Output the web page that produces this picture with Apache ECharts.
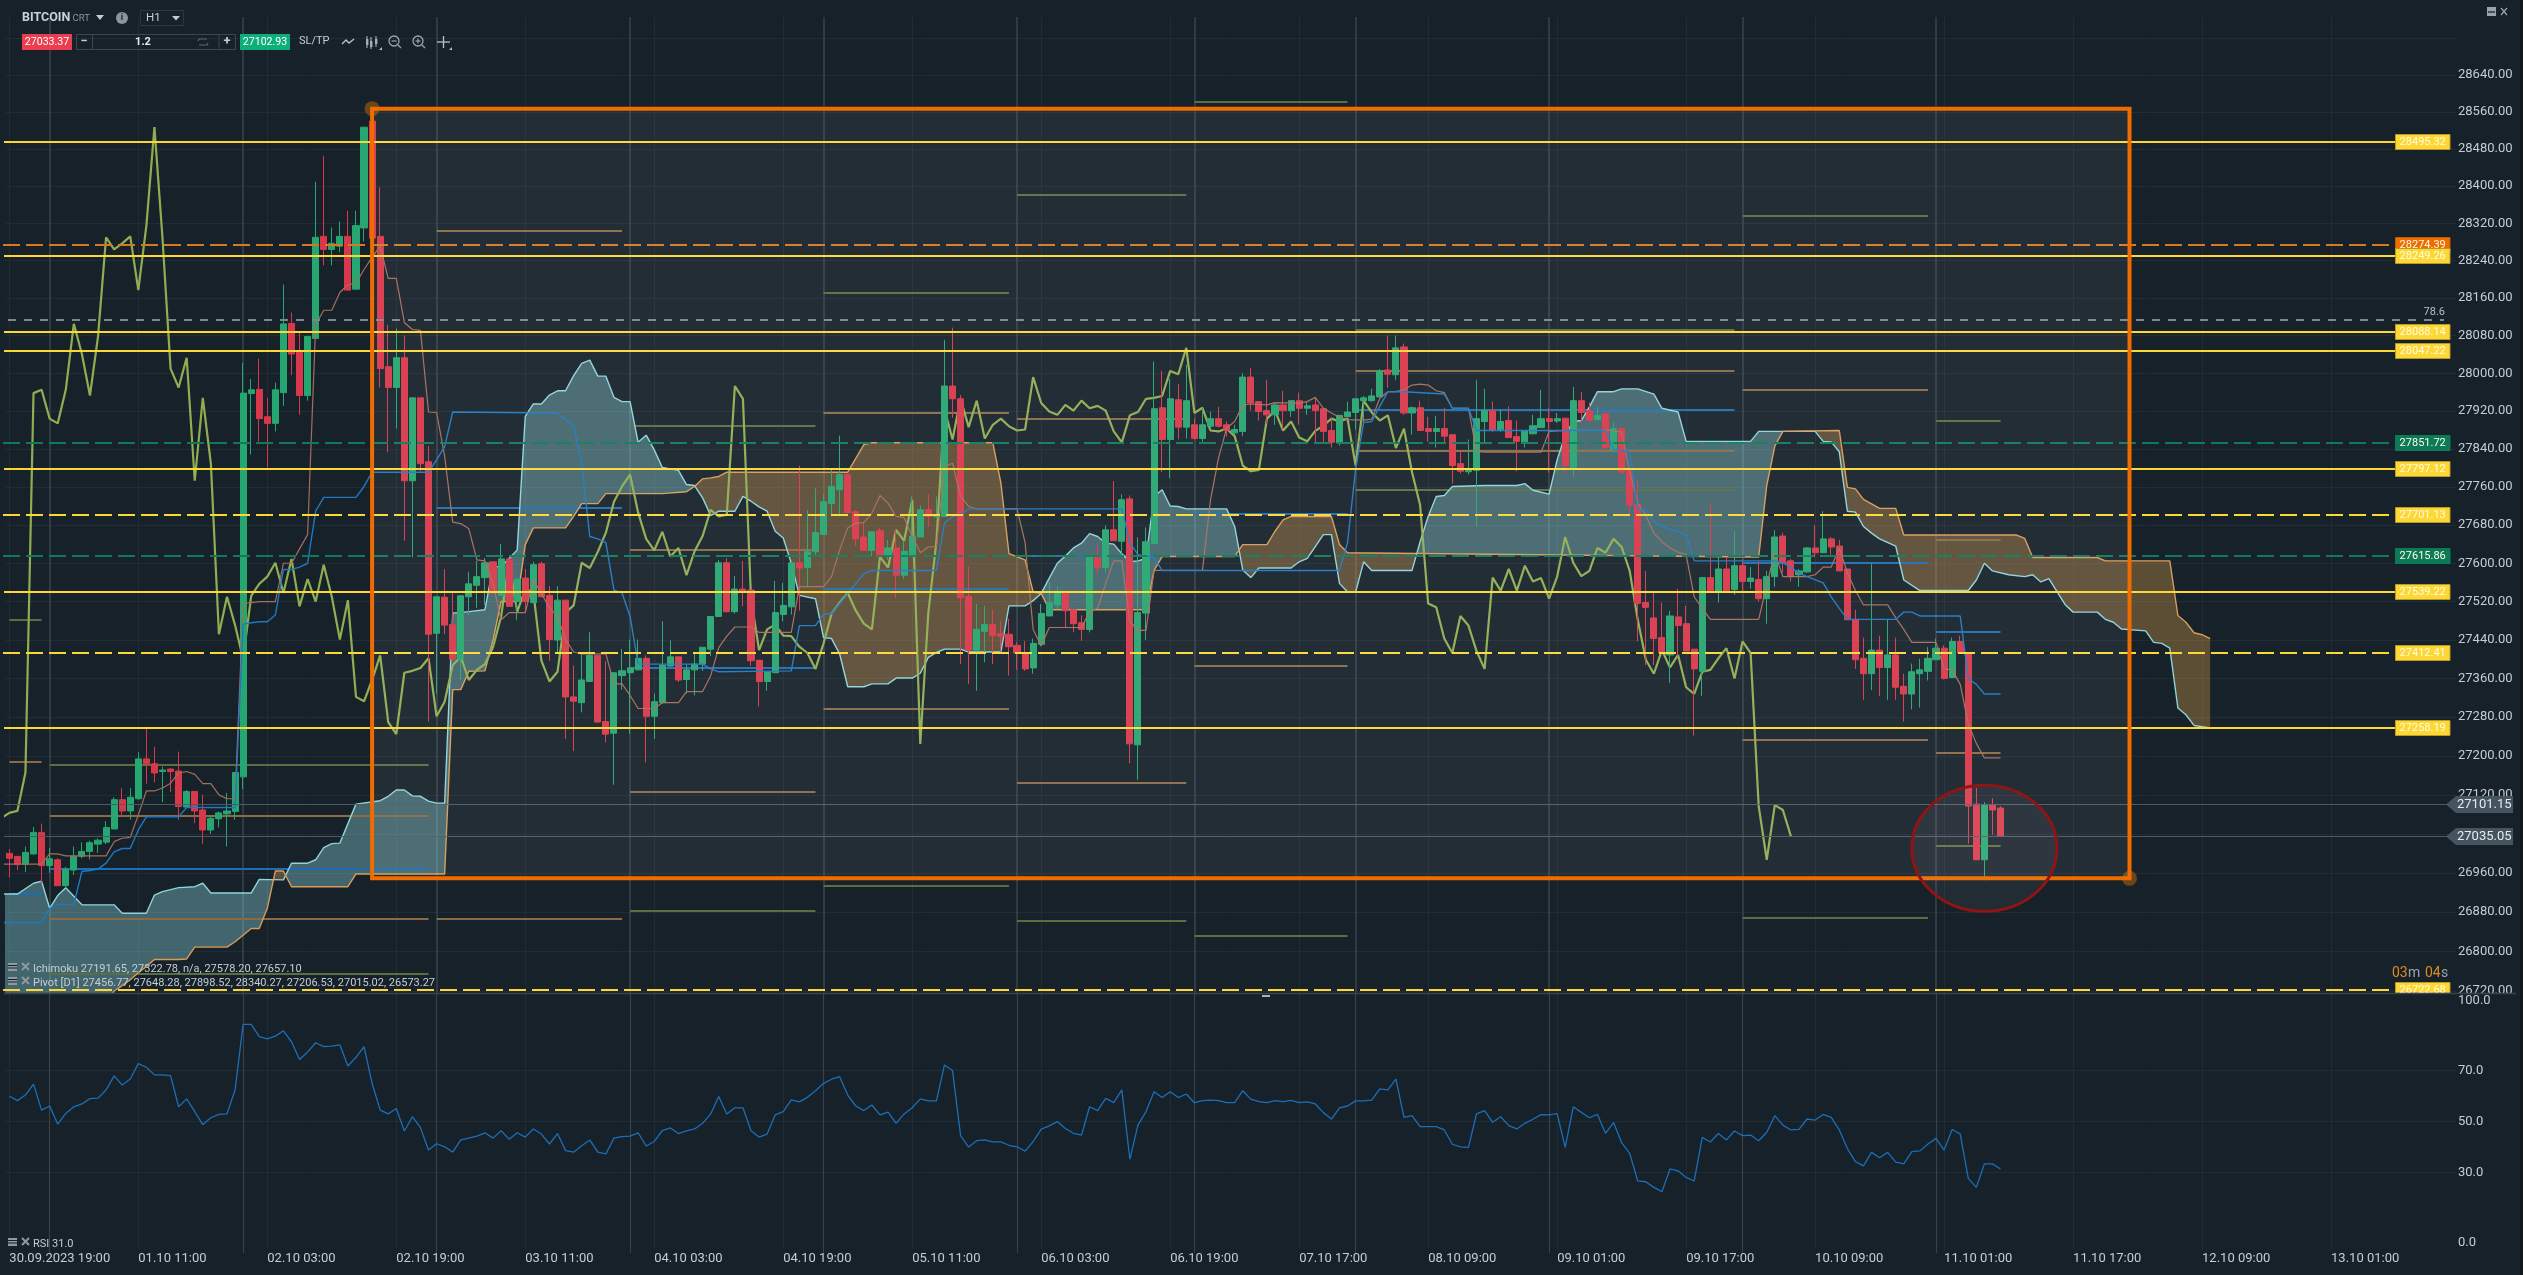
<!DOCTYPE html>
<html><head><meta charset="utf-8">
<style>html,body{margin:0;padding:0;background:#17212a;overflow:hidden}#c{width:2523px;height:1275px}</style>
<script src="https://cdn.jsdelivr.net/npm/echarts@6/dist/echarts.min.js"></script>
</head><body><div id="c"></div>
<script>
// ---------- x axis ----------
const tickLabels=['30.09.2023 19:00','01.10 11:00','02.10 03:00','02.10 19:00','03.10 11:00','04.10 03:00','04.10 19:00','05.10 11:00','06.10 03:00','06.10 19:00','07.10 17:00','08.10 09:00','09.10 01:00','09.10 17:00','10.10 09:00','11.10 01:00','11.10 17:00','12.10 09:00','13.10 01:00'];
const dayLines=[5,29,53,77,101,125,147,167,191,215,239];
// ---------- candles ----------
const opens=[27000,26994,26978,26999,27043,26975,26987,26934,26966,26994,
27004,27019,27023,27050,27110,27087,27112,27194,27184,27168,
27173,27169,27095,27127,27089,27048,27071,27081,27086,27157,
27957,27966,27908,27894,27959,28106,28046,27953,28074,28292,
28264,28271,28292,28179,28310,28540,28292,28014,27970,28033,
27773,27948,27813,27454,27529,27472,27400,27530,27554,27570,
27603,27533,27609,27520,27569,27518,27599,27533,27440,27523,
27322,27310,27354,27408,27271,27247,27366,27372,27378,27402,
27282,27310,27386,27405,27358,27378,27390,27421,27489,27601,
27499,27546,27544,27398,27354,27372,27493,27509,27601,27591,
27624,27660,27725,27754,27786,27708,27655,27627,27668,27615,
27632,27575,27617,27655,27712,27697,27698,27973,27946,27531,
27419,27458,27472,27453,27452,27429,27413,27382,27431,27490,
27513,27538,27503,27476,27462,27614,27591,27670,27646,27735,
27223,27496,27641,27927,27860,27944,27886,27891,27862,27888,
27904,27891,27874,27877,27992,27940,27921,27912,27933,27921,
27942,27926,27933,27925,27879,27853,27908,27917,27942,27942,
27950,28007,27997,28056,27916,27927,27883,27877,27883,27870,
27809,27792,27795,27898,27921,27881,27900,27866,27855,27872,
27885,27904,27899,27905,27801,27942,27921,27902,27915,27838,
27883,27795,27724,27518,27486,27445,27409,27488,27474,27421,
27375,27570,27540,27588,27545,27595,27562,27566,27526,27572,
27657,27605,27576,27582,27632,27622,27651,27636,27588,27483,
27402,27370,27419,27383,27409,27344,27328,27370,27375,27399,
27423,27362,27437,27413,27101,26987,27099,27093];
const closes=[26990,26978,27002,27043,26975,26989,26934,26968,26994,27004,
27022,27027,27053,27110,27087,27115,27194,27184,27165,27171,
27168,27096,27127,27087,27048,27072,27083,27087,27166,27958,
27965,27904,27894,27965,28105,28041,27953,28078,28290,28264,
28277,28292,28177,28315,28527,28288,28010,27970,28033,27773,
27948,27809,27452,27530,27471,27400,27532,27557,27572,27601,
27538,27609,27510,27567,27520,27597,27530,27441,27523,27322,
27313,27357,27408,27270,27245,27372,27376,27382,27402,27282,
27312,27388,27405,27357,27378,27390,27425,27489,27601,27499,
27546,27540,27397,27354,27374,27497,27512,27601,27590,27624,
27664,27729,27761,27786,27706,27651,27627,27666,27614,27632,
27575,27625,27657,27712,27698,27702,27973,27946,27528,27419,
27462,27472,27449,27448,27426,27413,27380,27433,27495,27518,
27538,27501,27474,27462,27614,27591,27670,27647,27733,27225,
27497,27645,27925,27860,27946,27886,27942,27862,27891,27904,
27888,27879,27881,27992,27937,27919,27912,27933,27921,27942,
27926,27931,27921,27877,27854,27911,27918,27946,27948,27952,
28005,27998,28054,27916,27927,27879,27877,27883,27867,27805,
27793,27796,27904,27921,27879,27898,27864,27856,27878,27889,
27904,27898,27904,27805,27942,27917,27900,27911,27842,27883,
27791,27722,27516,27508,27443,27413,27490,27470,27417,27380,
27570,27543,27588,27543,27595,27562,27569,27526,27572,27655,
27601,27573,27584,27632,27622,27651,27634,27584,27482,27399,
27370,27419,27383,27409,27342,27328,27374,27378,27402,27423,
27360,27437,27413,27097,26987,27099,27089,27035];
const highs=[27009,26994,27014,27054,27061,27011,26990,26973,27014,27023,
27026,27031,27066,27115,27134,27134,27208,27260,27219,27178,
27175,27209,27130,27127,27120,27078,27086,27124,27166,28022,
27988,28031,27948,27980,28189,28129,28088,28080,28409,28465,
28311,28324,28347,28347,28527,28540,28397,28103,28095,28080,
27948,27948,27846,27530,27588,27538,27532,27582,27605,27611,
27603,27640,27609,27567,27588,27603,27603,27552,27552,27523,
27387,27411,27456,27408,27396,27372,27421,27441,27441,27408,
27329,27479,27439,27405,27390,27415,27425,27489,27607,27611,
27573,27605,27544,27398,27374,27563,27559,27601,27805,27711,
27757,27744,27799,27868,27786,27712,27687,27666,27674,27649,
27670,27646,27740,27721,27744,27740,28071,28097,27954,27593,
27515,27511,27503,27480,27484,27435,27438,27443,27515,27561,
27551,27538,27503,27491,27614,27639,27679,27772,27744,27742,
27654,27675,28025,28005,27988,27977,28018,27904,27927,27919,
27929,27898,27891,28000,28011,27940,27986,27938,27963,27942,
27959,27940,27948,27925,27906,27911,27940,27946,27952,27967,
28009,28080,28080,28063,27930,27942,27908,27910,27927,27870,
27838,27860,27986,27967,27940,27923,27930,27900,27878,27912,
27965,27927,27916,27905,27971,27961,27938,27928,27915,27896,
27884,27801,27775,27584,27538,27518,27501,27547,27511,27421,
27570,27725,27613,27613,27668,27609,27592,27605,27584,27669,
27664,27609,27588,27634,27680,27709,27655,27649,27588,27503,
27445,27599,27449,27483,27445,27370,27391,27401,27425,27443,
27429,27445,27449,27413,27134,27105,27113,27097];
const lows=[26951,26966,26962,26997,26939,26960,26934,26929,26956,26990,
26988,27001,27019,27050,27076,27069,27110,27143,27146,27105,
27126,27069,27093,27062,27019,27040,27053,27014,27069,27132,
27828,27856,27801,27877,27931,27996,27912,27942,28074,28230,
28230,28258,28177,28179,28281,28288,27970,27833,27883,27647,
27612,27793,27271,27329,27452,27400,27357,27492,27507,27513,
27538,27533,27510,27482,27498,27517,27529,27397,27415,27235,
27210,27290,27353,27269,27228,27141,27337,27246,27378,27187,
27235,27308,27384,27353,27329,27325,27376,27407,27489,27497,
27495,27510,27386,27302,27335,27372,27479,27493,27501,27550,
27615,27660,27698,27698,27706,27636,27627,27615,27614,27607,
27527,27567,27615,27655,27676,27697,27697,27906,27390,27349,
27335,27394,27390,27415,27366,27378,27376,27370,27427,27490,
27505,27466,27456,27438,27456,27578,27582,27647,27618,27185,
27151,27440,27641,27791,27778,27860,27862,27860,27855,27881,
27885,27866,27870,27867,27921,27900,27893,27891,27881,27908,
27891,27912,27851,27853,27843,27847,27908,27881,27896,27940,
27950,27969,27986,27912,27870,27879,27855,27843,27853,27767,
27788,27786,27677,27851,27876,27876,27864,27793,27843,27872,
27885,27790,27895,27788,27782,27896,27898,27900,27840,27834,
27788,27701,27437,27388,27388,27413,27351,27405,27417,27242,
27324,27543,27518,27538,27534,27540,27547,27520,27474,27551,
27580,27562,27551,27580,27613,27622,27618,27584,27482,27380,
27316,27336,27324,27316,27316,27271,27296,27300,27356,27399,
27358,27362,27413,27020,26987,26945,27038,27033];
// ---------- Ichimoku: lagging span, one value per bar from bar -1 ----------
const chikou=[27072,27083,27087,27166,27958,
27965,27904,27894,27965,28105,28041,27953,28078,28290,28264,
28277,28292,28177,28315,28527,28288,28010,27970,28033,27773,
27948,27809,27452,27530,27471,27400,27532,27557,27572,27601,
27538,27609,27510,27567,27520,27597,27530,27441,27523,27322,
27313,27357,27408,27270,27245,27372,27376,27382,27402,27282,
27312,27388,27405,27357,27378,27390,27425,27489,27601,27499,
27546,27540,27397,27354,27374,27497,27512,27601,27590,27624,
27664,27729,27761,27786,27706,27651,27627,27666,27614,27632,
27575,27625,27657,27712,27698,27702,27973,27946,27528,27419,
27462,27472,27449,27448,27426,27413,27380,27433,27495,27518,
27538,27501,27474,27462,27614,27591,27670,27647,27733,27225,
27497,27645,27925,27860,27946,27886,27942,27862,27891,27904,
27888,27879,27881,27992,27937,27919,27912,27933,27921,27942,
27926,27931,27921,27877,27854,27911,27918,27946,27948,27952,
28005,27998,28054,27916,27927,27879,27877,27883,27867,27805,
27793,27796,27904,27921,27879,27898,27864,27856,27878,27889,
27904,27898,27904,27805,27942,27917,27900,27911,27842,27883,
27791,27722,27516,27508,27443,27413,27490,27470,27417,27380,
27570,27543,27588,27543,27595,27562,27569,27526,27572,27655,
27601,27573,27584,27632,27622,27651,27634,27584,27482,27399,
27370,27419,27383,27409,27342,27328,27374,27378,27402,27423,
27360,27437,27413,27097,26987,27099,27089,27035];
// Ichimoku stepped lines: [bar, price] at each vertex
const tenkan=[[-1,26978],[4,26978],[5,26999],[6,26999],[7,26995],[12,26995],[13,27024],[14,27031],[15,27033],[16,27079],[17,27128],[18,27128],[19,27134],[20,27144],[21,27165],[22,27168],[23,27162],[24,27143],[25,27143],[26,27120],[27,27112],[28,27112],[29,27515],[30,27518],[31,27520],[33,27520],[34,27600],[35,27600],[36,27630],[37,27660],[38,28103],[39,28134],[40,28134],[41,28172],[42,28189],[43,28191],[44,28221],[45,28247],[46,28271],[47,28202],[48,28202],[49,28108],[50,28093],[51,28091],[52,27918],[53,27917],[54,27825],[55,27686],[56,27683],[57,27672],[58,27607],[59,27605],[60,27558],[61,27482],[62,27497],[64,27497],[65,27565],[66,27537],[67,27507],[68,27489],[69,27441],[70,27415],[71,27411],[74,27411],[75,27349],[76,27349],[77,27325],[78,27298],[80,27298],[81,27310],[83,27310],[84,27333],[86,27333],[87,27366],[88,27424],[89,27448],[90,27467],[92,27467],[93,27456],[97,27456],[98,27551],[101,27551],[102,27572],[103,27628],[104,27674],[105,27684],[106,27685],[107,27705],[108,27742],[109,27726],[110,27698],[111,27696],[112,27656],[113,27622],[114,27634],[115,27635],[116,27803],[117,27810],[118,27740],[119,27719],[120,27714],[125,27714],[126,27643],[127,27462],[128,27428],[129,27466],[133,27466],[134,27499],[135,27506],[136,27558],[137,27605],[138,27605],[139,27479],[140,27460],[141,27460],[142,27585],[148,27585],[149,27733],[150,27821],[151,27884],[152,27898],[153,27933],[154,27935],[156,27933],[157,27938],[160,27937],[161,27940],[162,27949],[163,27926],[164,27916],[165,27907],[166,27902],[168,27901],[169,27903],[170,27947],[171,27961],[172,27961],[173,27965],[174,27975],[175,27977],[176,27975],[177,27963],[178,27959],[179,27926],[181,27926],[182,27835],[183,27833],[190,27833],[191,27877],[193,27879],[199,27879],[200,27875],[201,27792],[202,27726],[203,27700],[204,27663],[205,27645],[206,27632],[207,27623],[208,27618],[209,27530],[210,27506],[211,27483],[217,27483],[218,27555],[219,27622],[220,27572],[223,27572],[224,27576],[225,27592],[226,27592],[227,27632],[228,27580],[229,27543],[230,27513],[233,27513],[234,27486],[235,27462],[236,27435],[239,27435],[240,27380],[241,27378],[242,27348],[243,27266],[244,27226],[245,27196],[247,27196]];
const kijun=[[-1,26859],[4,26859],[5,26888],[6,26896],[8,26896],[9,26963],[10,26965],[11,26968],[12,26980],[13,27003],[14,27010],[15,27010],[16,27048],[17,27075],[21,27075],[22,27094],[28,27094],[29,27473],[30,27476],[31,27478],[32,27478],[33,27492],[34,27587],[35,27587],[36,27592],[37,27600],[38,27709],[39,27738],[43,27738],[44,27761],[45,27791],[52,27791],[53,27817],[54,27845],[55,27918],[68,27916],[69,27902],[70,27889],[71,27810],[72,27656],[73,27651],[74,27643],[75,27544],[76,27538],[77,27489],[78,27390],[86,27390],[87,27380],[88,27374],[97,27376],[98,27470],[100,27470],[101,27494],[102,27494],[104,27537],[106,27578],[107,27585],[115,27585],[116,27684],[117,27698],[118,27702],[119,27714],[138,27714],[139,27643],[140,27618],[142,27612],[143,27585],[165,27585],[166,27643],[167,27797],[168,27896],[169,27898],[170,27930],[171,27961],[173,27961],[178,27956],[179,27926],[181,27926],[182,27879],[198,27879],[199,27839],[201,27834],[202,27713],[203,27711],[204,27687],[206,27670],[207,27667],[208,27658],[209,27605],[219,27605],[220,27601],[222,27580],[223,27572],[225,27559],[226,27530],[227,27506],[228,27483],[234,27483],[235,27498],[236,27498],[237,27490],[242,27490],[243,27360],[244,27348],[245,27328],[247,27328]];
const senkouA=[[-1,26917],[1,26917],[3,26939],[4,26943],[5,26888],[6,26914],[7,26930],[9,26895],[13,26895],[14,26878],[17,26878],[18,26915],[19,26922],[21,26930],[23,26932],[24,26939],[25,26919],[30,26919],[31,26947],[34,26946],[35,26980],[37,26980],[38,26987],[39,27012],[40,27020],[41,27021],[43,27101],[46,27108],[47,27117],[48,27130],[49,27130],[50,27118],[51,27117],[52,27107],[53,27103],[54,27103],[55,27496],[57,27499],[59,27503],[60,27593],[61,27593],[62,27610],[63,27628],[64,27909],[65,27935],[66,27935],[67,27954],[68,27963],[69,27963],[70,27995],[71,28021],[72,28028],[73,27994],[74,27994],[75,27949],[76,27940],[77,27940],[78,27854],[79,27869],[80,27838],[81,27801],[82,27798],[83,27795],[84,27765],[85,27763],[86,27737],[87,27700],[88,27709],[90,27709],[91,27740],[92,27730],[93,27718],[94,27709],[95,27667],[96,27653],[97,27600],[98,27533],[100,27526],[101,27445],[102,27443],[103,27411],[104,27343],[106,27343],[107,27349],[109,27349],[110,27361],[112,27361],[113,27371],[114,27404],[115,27414],[116,27421],[118,27421],[119,27415],[123,27415],[124,27511],[126,27511],[127,27522],[128,27537],[129,27569],[130,27600],[131,27615],[132,27632],[133,27642],[134,27662],[135,27656],[136,27642],[137,27640],[138,27620],[139,27603],[140,27605],[141,27610],[142,27740],[143,27754],[144,27720],[145,27719],[146,27714],[151,27714],[152,27677],[153,27586],[154,27570],[155,27590],[159,27590],[160,27603],[161,27610],[162,27635],[163,27660],[164,27660],[165,27558],[166,27540],[167,27540],[168,27603],[169,27585],[174,27585],[175,27645],[176,27698],[177,27740],[178,27742],[179,27761],[183,27763],[187,27763],[188,27767],[189,27753],[191,27745],[192,27817],[193,27870],[194,27898],[195,27900],[196,27929],[197,27961],[199,27961],[200,27967],[202,27967],[204,27956],[205,27926],[207,27918],[208,27856],[216,27856],[217,27877],[224,27877],[225,27856],[226,27855],[227,27834],[228,27709],[229,27707],[230,27677],[231,27663],[232,27651],[234,27636],[235,27565],[237,27543],[243,27543],[244,27565],[245,27600],[246,27584],[248,27576],[250,27572],[251,27576],[252,27561],[253,27568],[255,27514],[256,27498],[259,27498],[260,27483],[261,27477],[262,27463],[265,27459],[266,27435],[267,27433],[268,27423],[269,27299],[270,27285],[271,27263],[273,27258]];
const senkouB=[[-1,26690],[12,26690],[13,26720],[14,26731],[15,26743],[16,26757],[17,26770],[18,26784],[21,26784],[22,26785],[23,26809],[27,26809],[28,26820],[29,26833],[30,26847],[31,26847],[32,26888],[33,26964],[34,26964],[35,26932],[42,26932],[43,26958],[54,26958],[55,27337],[56,27337],[57,27375],[59,27376],[60,27440],[61,27520],[63,27520],[64,27639],[65,27674],[69,27674],[70,27698],[71,27725],[73,27725],[74,27746],[81,27746],[84,27750],[85,27761],[86,27777],[87,27779],[88,27782],[89,27791],[104,27791],[105,27820],[106,27849],[107,27853],[122,27853],[123,27768],[124,27620],[126,27607],[127,27540],[128,27537],[129,27503],[141,27503],[142,27585],[143,27614],[152,27614],[153,27639],[156,27639],[157,27667],[158,27691],[159,27698],[164,27698],[165,27639],[166,27622],[216,27613],[217,27613],[218,27763],[219,27846],[220,27877],[227,27879],[228,27759],[229,27756],[230,27734],[232,27715],[234,27715],[235,27659],[249,27659],[250,27652],[251,27612],[259,27612],[260,27605],[268,27605],[269,27491],[270,27477],[271,27455],[272,27451],[273,27443]];
// ---------- Pivot levels, one column per period ----------
const pivotStart=[0,5,53,77,101,125,147,167,215,239];
const pivotEnd=[4,52,76,100,124,146,166,214,238,247];
const pivotP=[26918,26968,27717,27383,27547,27616,27704,27923,27601,27456.77];
const pivotR1=[27189,27078,28305,27628,27917,27904,null,28006,27965,27648.28];
const pivotR2=[27482,27182,null,27888,28172,28382,28582,28093,28337,27898.52];
const pivotS1=[null,26866,26867,27127,27298,27144,27387,27837,27233,27206.53];
const pivotS2=[null,26755,null,26883,26933,26863,26833,27754,26869,27015.02];
// ---------- RSI ----------
const rsi=[59.9,58.1,60.3,64.6,54.4,56,48.9,53.1,55.7,56.8,
58.9,59.1,62.3,67.8,64.2,66.6,72.6,71.2,68.2,68.2,
67.9,55.7,58.8,53.8,48.7,51.4,52.7,52.9,62.3,88,
88,83.2,82.3,83.4,85.5,81.2,74.2,77.2,80.8,79.3,
79.5,80,71.7,75.1,79.3,64.9,54.4,52.9,55,46.2,
51.8,47.5,38.7,41.2,40,37.9,42.7,43.4,44.2,45.5,
43.4,46.3,43,45.5,43.8,47,45,41.1,45.2,38.5,
37.9,40.4,42.7,37.9,37.2,43.4,44,44.2,45.5,40.3,
42.1,46.3,47.4,45.2,46.2,47,49.2,52.9,59.7,52.9,
55.3,55.3,46.3,43.8,45,52.5,53.8,58.4,57.6,59.4,
62,64.9,66.5,67.5,60.3,56,54.2,56.4,52.5,53.6,
49.2,52.9,55.3,58.8,58,58,72.1,69.9,44.4,39.9,
42.4,42.7,41.9,41.9,40.6,40,38.3,42,46.9,48.2,
49.9,47.2,45.3,44.6,55.7,54.2,59,57.3,62.3,35.1,
48.5,53.8,61.6,59.3,61.6,59.3,60.7,57.3,58.1,58.3,
58.1,57.3,57.3,62,58.7,57.7,57.3,58.1,57.7,58.2,
57.3,57.6,56.8,53.4,50.9,55.3,56,58,58,58.3,
62.7,62.3,66.5,51.5,52.2,47.9,47.9,47.9,46.6,41,
40,39.8,52.9,54.2,49.6,51.8,48.3,47,49.2,50.8,
52.6,52.5,53,39.8,55.7,53.5,51.4,52.7,45.3,49.5,
41.6,37.4,26.6,26.3,24.1,22.4,31.3,30.6,28,26.6,
43.7,41.9,45.2,42.7,46.2,44.4,44.6,42.4,45.7,52.2,
48.5,46.6,46.8,50.9,50.5,52.7,51.5,46.6,39.3,34.2,
32.5,37.8,35.7,37.8,34,33.3,38.1,38.4,41.1,43.3,
38.7,46.8,45,27.6,24.1,33.3,33.3,31.3];
const rsiTicks=[0,30,50,70,100];
const rsiGrid=[30,50,70];
// ---------- price axis ticks and horizontal levels ----------
const priceTicks=[26720,26800,26880,26960,27040,27120,27200,27280,27360,27440,27520,27600,27680,27760,27840,27920,28000,28080,28160,28240,28320,28400,28480,28560,28640];
const priceGrid=[26720,26800,26880,26960,27040,27120,27200,27280,27360,27440,27520,27600,27680,27760,27840,27920,28000,28080,28160,28240,28320,28400,28480,28560,28640,28720];
const levelPrices=[28274.39,28495.32,28249.26,28088.14,28047.22,27851.72,27797.12,27701.13,27615.86,27539.22,27412.41,27258.19,26722.68];
const levelKinds=['orangeDash','solid','solid','solid','solid','greenDash','solid','dash','greenDash','solid','dash','solid','dash'];
const fibPrice=28112.6, fibLabel='78.6';
const askPrice=27101.15, bidPrice=27035.05;
// drawn annotations
const boxBars=[45,263], boxPrices=[28567,26949];
const circleBars=[236.2,254.3], circlePrices=[27140,26882];

const GL=5.3,GW=2450.7,BARS=304;
const categories=Array.from({length:BARS},(_,i)=>i%16===0&&tickLabels[i/16]?tickLabels[i/16]:String(i));
const FONT='Roboto, sans-serif';
const TXT='#c4cdd4';
const blank=[];
function ml(name,xi,yi,data,style,z){return {type:'line',name,data:blank,xAxisIndex:xi,yAxisIndex:yi,z:z||0,silent:true,showSymbol:false,
  markLine:{silent:true,symbol:'none',animation:false,label:{show:false},lineStyle:style,data,z:z||0}};}
const minorBars=tickLabels.map((_,i)=>i*16);
function seg(arr){return arr.map((p,k)=>p==null?null:[{xAxis:pivotStart[k],yAxis:p},{xAxis:pivotEnd[k],yAxis:p}]).filter(Boolean);}

function cloudItem(params,api){
  const ptA=senkouA.map(v=>api.coord(v)),ptB=senkouB.map(v=>api.coord(v));
  const xs=[...new Set([...senkouA,...senkouB].map(v=>v[0]))].sort((a,b)=>a-b);
  const xOf=i=>api.coord([i,27000])[0];
  const at=(pts,src,i)=>{let k=0;while(k<src.length-2&&src[k+1][0]<i)k++;const t=(i-src[k][0])/(src[k+1][0]-src[k][0]);return pts[k][1]+(pts[k+1][1]-pts[k][1])*t;};
  const polys=[];let cur=null;
  const flush=()=>{if(cur){polys.push(cur);cur=null;}};
  const add=(x,a,b,s)=>{if(!cur||cur.s!==s){flush();cur={s,top:[],bot:[]};}cur.top.push([x,a]);cur.bot.push([x,b]);};
  for(let n=0;n<xs.length-1;n++){
    const i0=xs[n],i1=xs[n+1],x0=xOf(i0),x1=xOf(i1);
    const a0=at(ptA,senkouA,i0),a1=at(ptA,senkouA,i1),b0=at(ptB,senkouB,i0),b1=at(ptB,senkouB,i1);
    const d0=a0-b0,d1=a1-b1;const s=(d0+d1)<=0?1:-1;
    if(d0*d1<0){const t=d0/(d0-d1),xc=x0+(x1-x0)*t,yc=a0+(a1-a0)*t,s0=d0<0?1:-1,s1=d1<0?1:-1;
      add(x0,a0,b0,s0);add(xc,yc,yc,s0);flush();add(xc,yc,yc,s1);add(x1,a1,b1,s1);
    }else{add(x0,a0,b0,s);add(x1,a1,b1,s);}
  }
  flush();
  return {type:'group',children:polys.map(p=>({type:'polygon',shape:{points:p.top.concat(p.bot.reverse())},style:{fill:p.s>0?'rgba(140,215,220,0.38)':'rgba(205,150,70,0.38)',stroke:null}}))};
}
const TAG={solid:['#fdd835','#fdd835','#b89a28',[]],dash:['#fdd835','#fdd835','#b89a28',[17,6]],greenDash:['#0e7a5a','#0b7a55','#0b7a55',[17,6]],orangeDash:['#d9781e','#ef6c00','#c25a00',[17,6]]};
function levelItem(params,api){
  const k=params.dataIndex,y=Math.round(api.coord([0,levelPrices[k]])[1]),T=TAG[levelKinds[k]];
  const fromX=T[3].length?3:4;
  const bot=Math.min(y+7.5,993);
  return {type:'group',children:[
    {type:'line',shape:{x1:fromX,y1:y,x2:2395,y2:y},style:{stroke:T[0],lineWidth:2,lineDash:T[3].length?T[3]:null}},
    {type:'rect',shape:{x:2395.5,y:y-7.5,width:54.5,height:bot-y+7.5},style:{fill:T[1],stroke:T[2],lineWidth:1}},
    {type:'text',style:{text:levelPrices[k].toFixed(2),x:2422.7,y:y,fill:'#fffbe8',font:'11px '+FONT,align:'center',verticalAlign:'middle',textAlign:'center',textVerticalAlign:'middle'}}
  ]};
}
function quoteItem(params,api){
  const p=params.dataIndex===0?askPrice:bidPrice,y=Math.round(api.coord([0,p])[1])+0.5;
  return {type:'group',children:[
    {type:'line',shape:{x1:4,y1:y,x2:2447,y2:y},style:{stroke:'#4c5a66',lineWidth:1}},
    {type:'polygon',shape:{points:[[2446,y],[2456,y-8.5],[2513,y-8.5],[2513,y+8.5],[2456,y+8.5]]},style:{fill:'#44555f'}},
    {type:'text',style:{text:p.toFixed(2),x:2457,y:y,fill:'#e6ebee',font:'13px '+FONT,textAlign:'left',textVerticalAlign:'middle'}}
  ]};
}
function fibItem(params,api){
  const y=Math.round(api.coord([0,fibPrice])[1]);
  return {type:'group',children:[
    {type:'line',shape:{x1:8,y1:y,x2:2444,y2:y},style:{stroke:'#7c868e',lineWidth:2,lineDash:[8,8]}},
    {type:'text',style:{text:fibLabel,x:2445,y:y-8,fill:'#b7c0c7',font:'11px '+FONT,textAlign:'right',textVerticalAlign:'middle'}}
  ]};
}
function boxItem(params,api){
  const a=api.coord([boxBars[0],boxPrices[0]]),b=api.coord([boxBars[1],boxPrices[1]]);
  return {type:'group',children:[
    {type:'circle',shape:{cx:a[0],cy:a[1],r:7.5},style:{fill:'#7a4c16',opacity:0.85}},
    {type:'circle',shape:{cx:b[0],cy:b[1],r:7.5},style:{fill:'#7a4c16',opacity:0.85}},
    {type:'rect',shape:{x:a[0],y:a[1],width:b[0]-a[0],height:b[1]-a[1]},style:{fill:'rgba(255,255,255,0.055)',stroke:'#ef6c00',lineWidth:4}}
  ]};
}
function circleItem(params,api){
  const a=api.coord([circleBars[0],circlePrices[0]]),b=api.coord([circleBars[1],circlePrices[1]]);
  return {type:'ellipse',shape:{cx:(a[0]+b[0])/2,cy:(a[1]+b[1])/2,rx:(b[0]-a[0])/2,ry:(b[1]-a[1])/2},style:{fill:'rgba(255,255,255,0.05)',stroke:'#8f1414',lineWidth:3}};
}
function one(name,fn,z,rows,clip){return {type:'custom',name,renderItem:fn,z,silent:true,clip:!!clip,xAxisIndex:0,yAxisIndex:0,encode:{x:0,y:1},data:rows};}

// ---------- page furniture ----------
const G=[];
const T=(text,x,y,o={})=>G.push({type:'text',silent:true,z:50,style:{text,x,y,fill:o.fill||TXT,font:(o.weight?o.weight+' ':'')+(o.size||12)+'px '+FONT,textAlign:o.align||'left',textVerticalAlign:'middle'}});
const R=(x,y,w,h,fill,stroke)=>G.push({type:'rect',silent:true,z:49,shape:{x,y,width:w,height:h},style:{fill:fill||'none',stroke:stroke||null,lineWidth:1}});
const L=(pts,stroke,w)=>G.push({type:'polyline',silent:true,z:50,shape:{points:pts},style:{fill:'none',stroke,lineWidth:w||1.3}});
const C=(cx,cy,r,fill,stroke)=>G.push({type:'circle',silent:true,z:50,shape:{cx,cy,r},style:{fill:fill||'none',stroke:stroke||null,lineWidth:1.3}});
const P=(pts,fill)=>G.push({type:'polygon',silent:true,z:50,shape:{points:pts},style:{fill}});
R(2520,0,3,1275,'#10181e');
L([[4,993.5],[2516,993.5]],'#3a444c',1.5);
R(1262,995,8,2,'#aab3ba');
T('BITCOIN',22,18,{weight:'bold',size:12.5,fill:'#c9d2d8'});
T('CRT',72.5,18.5,{size:9.5,fill:'#8a96a0'});
P([[96,15],[104,15],[100,20]],'#c4cdd4');
C(122,18,6,'#8c959c');T('i',122,18,{size:9,weight:'bold',fill:'#17212a',align:'center'});
R(140.5,10.5,43,15,null,'#2b3842');T('H1',146,18,{size:11.5});
P([[172,16],[180,16],[176,20.5]],'#c4cdd4');
R(22,34,50,16,'#ea3d4f');T('27033.37',47,42.5,{size:10.6,fill:'#fff',align:'center'});
R(76.5,34.5,159,15,null,'#3b4751');L([[92.5,34.5],[92.5,49.5]],'#3b4751',1);L([[219,34.5],[219,49.5]],'#3b4751',1);
T('−',84,42,{size:13,weight:'bold',align:'center'});T('1.2',143,42.5,{size:11,weight:'bold',fill:'#e3e8ec',align:'center'});
L([[198,41],[199,39],[207,39]],'#5d6973',1.2);L([[208,43],[207,45],[199,45]],'#5d6973',1.2);
T('+',227,42,{size:13,weight:'bold',align:'center'});
R(240,34,50,16,'#0dae7a');T('27102.93',265,42.5,{size:10.6,fill:'#fff',align:'center'});
T('SL/TP',299,41.5,{size:11});
L([[342,44],[346,40],[349,43],[354,39]],'#b9c2c9',1.4);
L([[367,36],[367,48]],'#b9c2c9',1);L([[371,37],[371,49]],'#b9c2c9',1);L([[376,36],[376,47]],'#b9c2c9',1);
R(366,39,2.5,6,'#8f99a1');R(370,41,2.5,6,'#8f99a1');R(375,39,2.5,5,'#8f99a1');P([[379,50],[382,50],[382,47]],'#b9c2c9');
C(394,41,5,null,'#9ba5ad');L([[398,45],[401,48]],'#9ba5ad',1.3);L([[391.5,41],[396.5,41]],'#9ba5ad',1.2);
C(418,41,5,null,'#9ba5ad');L([[422,45],[425,48]],'#9ba5ad',1.3);L([[415.5,41],[420.5,41]],'#9ba5ad',1.2);L([[418,38.5],[418,43.5]],'#9ba5ad',1.2);
L([[437,42],[450,42]],'#b9c2c9',1.3);L([[443.5,36],[443.5,48]],'#b9c2c9',1.3);P([[449,50],[452,50],[452,47]],'#b9c2c9');
R(2487,7,9,9,'#9aa4ac');L([[2488,12],[2495,12]],'#17212a',1.3);
L([[2501,8],[2507,15]],'#9aa4ac',1.2);L([[2507,8],[2501,15]],'#9aa4ac',1.2);
function tools(y){R(8,y-5,9,8,'#8f99a1');L([[8,y-2.5],[17,y-2.5]],'#17212a',1);L([[8,y],[17,y]],'#17212a',1);
 L([[22,y-5],[29,y+2]],'#8f99a1',2);L([[29,y-5],[22,y+2]],'#8f99a1',2);}
tools(968);tools(982);tools(1243);
T('Ichimoku 27191.65, 27322.78, n/a, 27578.20, 27657.10',33,969,{size:11});
T('Pivot [D1] 27456.77, 27648.28, 27898.52, 28340.27, 27206.53, 27015.02, 26573.27',33,983,{size:11});
T('RSI 31.0',33,1244,{size:11});
T('03',2392,973,{size:14,fill:'#e08a1e'});T('m',2408,973,{size:14,fill:'#9aa4ac'});T('04',2425,973,{size:14,fill:'#e08a1e'});T('s',2441,973,{size:14,fill:'#9aa4ac'});

const option={
 animation:false,backgroundColor:'#17212a',textStyle:{fontFamily:FONT},
 graphic:G,
 grid:[{left:GL,top:17,width:GW,height:976},{left:GL,top:993.8,width:GW,height:255}],
 xAxis:[0,1].map(g=>({type:'category',gridIndex:g,data:categories,boundaryGap:true,position:'bottom',
   axisLine:{show:false},splitLine:{show:false},
   axisTick:g?{show:true,alignWithLabel:true,interval:(i)=>dayLines.includes(i),length:4,lineStyle:{color:'#3b454e'}}:{show:false},
   axisLabel:g?{show:true,interval:(i)=>i%16===0&&i/16<tickLabels.length,align:'left',color:TXT,fontSize:13,fontFamily:FONT,margin:3,hideOverlap:false}:{show:false}})),
 yAxis:[
  {type:'log',logBase:10,gridIndex:0,position:'right',min:26716,max:28766,axisLine:{show:false},axisTick:{show:false},splitLine:{show:false},
   axisLabel:{show:true,customValues:priceTicks,color:TXT,fontSize:13,fontFamily:FONT,margin:2,formatter:v=>(v<100?Math.pow(10,v):v).toFixed(2)}},
  {type:'value',gridIndex:1,position:'right',min:0,max:100,axisLine:{show:false},axisTick:{show:false},splitLine:{show:false},
   axisLabel:{show:true,customValues:rsiTicks,color:TXT,fontSize:13,fontFamily:FONT,margin:2,verticalAlignMinLabel:'bottom',verticalAlignMaxLabel:'top',formatter:v=>v.toFixed(1)}}
 ],
 series:[
  ml('priceGridLines',0,0,priceGrid.map(p=>({yAxis:p})),{color:'#222c35',width:1,type:'solid'}),
  ml('rsiGridLines',1,1,rsiGrid.map(p=>({yAxis:p})),{color:'#222c35',width:1,type:'solid'}),
  ml('minorP',0,0,minorBars.map(i=>({xAxis:i})),{color:'#222c35',width:1,type:'solid'}),
  ml('minorR',1,1,minorBars.map(i=>({xAxis:i})),{color:'#222c35',width:1,type:'solid'}),
  ml('dayP',0,0,dayLines.map(i=>({xAxis:i})),{color:'#38424b',width:1.6,type:'solid'}),
  ml('dayR',1,1,dayLines.map(i=>({xAxis:i})),{color:'#38424b',width:1.2,type:'solid'}),
  one('cloud',cloudItem,1,[[0,27000]],true),
  {type:'line',name:'senkouA',data:senkouA,xAxisIndex:0,yAxisIndex:0,z:2,showSymbol:false,silent:true,clip:true,lineStyle:{color:'#8fd3da',width:1.4}},
  {type:'line',name:'senkouB',data:senkouB,xAxisIndex:0,yAxisIndex:0,z:2,showSymbol:false,silent:true,clip:true,lineStyle:{color:'#d79c58',width:1.4}},
  ml('pivotP',0,0,seg(pivotP),{color:'#1c6fb3',width:2,type:'solid'},2),
  ml('pivotR1',0,0,seg(pivotR1),{color:'#8a6b45',width:2,type:'solid'},2),
  ml('pivotS1',0,0,seg(pivotS1),{color:'#8a6b45',width:2,type:'solid'},2),
  ml('pivotR2',0,0,seg(pivotR2),{color:'#5c6d41',width:2,type:'solid'},2),
  ml('pivotS2',0,0,seg(pivotS2),{color:'#5c6d41',width:2,type:'solid'},2),
  {type:'line',name:'chikou',data:chikou.map((v,i)=>[i-1,v]),xAxisIndex:0,yAxisIndex:0,z:3,showSymbol:false,silent:true,clip:true,lineStyle:{color:'#8fae52',width:2.2}},
  {type:'candlestick',name:'BITCOIN',xAxisIndex:0,yAxisIndex:0,z:4,silent:true,barWidth:6.6,
   data:opens.map((o,i)=>[o,closes[i],lows[i],highs[i]]),
   itemStyle:{color:'#26a671',color0:'#d9384b',borderColor:'#26a671',borderColor0:'#d9384b',borderWidth:1}},
  {type:'line',name:'tenkan',data:tenkan,xAxisIndex:0,yAxisIndex:0,z:5,showSymbol:false,silent:true,clip:true,lineStyle:{color:'#a56d5b',width:1.2}},
  {type:'line',name:'kijun',data:kijun,xAxisIndex:0,yAxisIndex:0,z:5,showSymbol:false,silent:true,clip:true,lineStyle:{color:'#1f78c1',width:1.4}},
  one('levels',levelItem,6,levelPrices.map((p,i)=>[i,p])),
  one('fib',fibItem,6,[[0,fibPrice]]),
  one('quotes',quoteItem,6,[[0,askPrice],[0,bidPrice]]),
  one('box',boxItem,7,[[boxBars[0],boxPrices[0]]]),
  one('circle',circleItem,8,[[circleBars[0],circlePrices[0]]]),
  {type:'line',name:'RSI',data:rsi.map((v,i)=>[i,v]),xAxisIndex:1,yAxisIndex:1,z:3,showSymbol:false,silent:true,lineStyle:{color:'#1b6fb8',width:1.3}}
 ]
};
const chart=echarts.init(document.getElementById('c'),null,{width:2523,height:1275,renderer:'canvas'});
chart.setOption(option);
</script></body></html>
